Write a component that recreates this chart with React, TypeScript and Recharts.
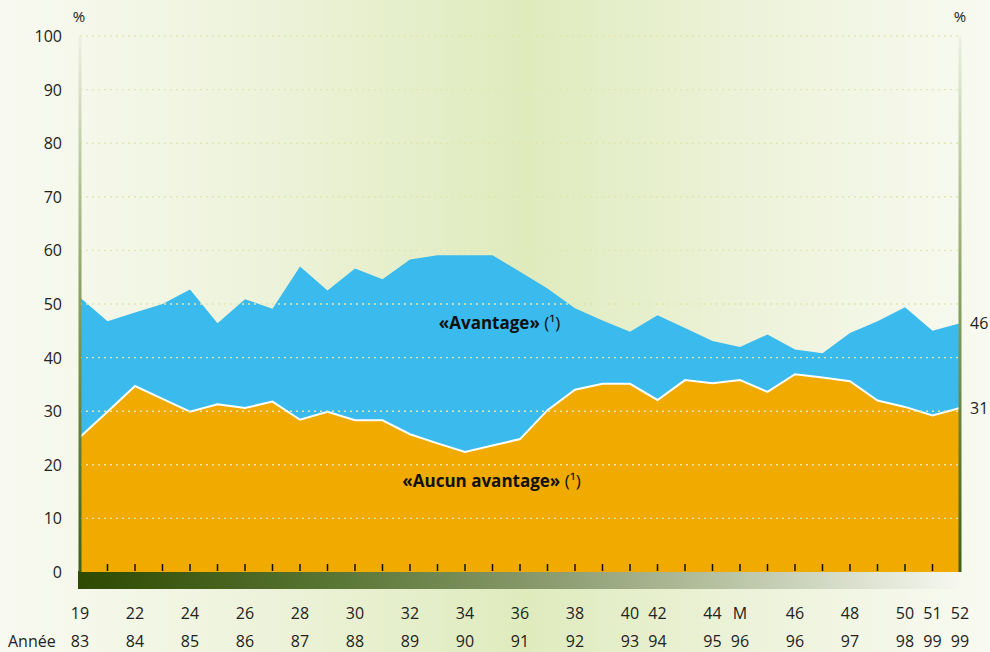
import { AreaChart, Area, XAxis, YAxis, ReferenceLine, ReferenceDot, LabelList } from 'recharts'

// survey wave (top row) and year (bottom row) shown under each point, blank where unlabeled
const waves = ['19', '', '22', '', '24', '', '26', '', '28', '', '30', '', '32', '', '34', '', '36', '', '38', '', '40', '42', '', '44', 'M', '', '46', '', '48', '', '50', '51', '52']
const years = ['83', '', '84', '', '85', '', '86', '', '87', '', '88', '', '89', '', '90', '', '91', '', '92', '', '93', '94', '', '95', '96', '', '96', '', '97', '', '98', '99', '99']

const avantage = [51.2, 46.8, 48.4, 50.0, 52.7, 46.4, 50.9, 49.1, 57.0, 52.5, 56.6, 54.6, 58.3, 59.1, 59.1, 59.1, 56.0, 52.9, 49.2, 46.9, 44.8, 47.9, 45.5, 43.1, 42.0, 44.3, 41.5, 40.8, 44.6, 46.8, 49.4, 45.0, 46.4]
const aucun = [25.2, 29.9, 34.7, 32.3, 29.9, 31.3, 30.6, 31.8, 28.4, 29.9, 28.3, 28.3, 25.7, 24.0, 22.4, 23.6, 24.8, 30.2, 34.0, 35.1, 35.1, 32.1, 35.8, 35.2, 35.8, 33.6, 36.9, 36.3, 35.6, 32.0, 30.8, 29.2, 30.6]

const yTicks = [0, 10, 20, 30, 40, 50, 60, 70, 80, 90, 100]

const data = waves.map((w, i) => ({ k: String(i), avantage: avantage[i], aucun: aucun[i] }))

const FONT = '"Open Sans", sans-serif'
const W = 990
const H = 652
const BOTTOM = 80
const TOP = 36
const base = H - BOTTOM

function XTick(props: any) {
  const { x, index } = props
  const last = waves.length - 1
  return (
    <g>
      {index > 0 && index < last && <line x1={x} x2={x} y1={base - 8} y2={base - 1} stroke="#111" strokeWidth={1.5} />}
      <text x={x} y={base + 41} textAnchor="middle" dominantBaseline="central" fontSize={16} fill="#222" fontFamily={FONT}>{waves[index]}</text>
      <text x={x} y={base + 69} textAnchor="middle" dominantBaseline="central" fontSize={16} fill="#222" fontFamily={FONT}>{years[index]}</text>
    </g>
  )
}

function YTick(props: any) {
  const { y, payload } = props
  return (
    <text x={62} y={y} textAnchor="end" dominantBaseline="central" fontSize={16} fill="#222" fontFamily={FONT}>{payload.value}</text>
  )
}

function EndLabel(props: any) {
  const { x, y, index, value } = props
  if (index !== waves.length - 1) return null
  return (
    <text x={x + 10} y={y} dominantBaseline="central" fontSize={16} fill="#222" fontFamily={FONT}>{Math.round(value)}</text>
  )
}

function SeriesName(props: any) {
  const { viewBox, value, dx = 0 } = props
  const cx = viewBox.x + viewBox.width / 2 + dx
  const cy = viewBox.y + viewBox.height / 2
  return (
    <text x={cx} y={cy} textAnchor="middle" dominantBaseline="central" fontSize={17} fill="#111" fontFamily={FONT}>
      <tspan fontWeight="bold">{value}</tspan> (¹)
    </text>
  )
}

export default function App() {
  return (
    <div style={{ position: 'absolute', left: 0, top: 0, width: W, height: H, background: 'linear-gradient(to right, #f8faf1 0%, #eef3dc 25%, #dfebbd 53%, #eef3dc 78%, #f8faf1 100%)', fontFamily: FONT }}>
      <div style={{ position: 'absolute', left: 78, top: base - 1, width: 882, height: 18, background: 'linear-gradient(to right, #2e4900 0%, #5b7736 30%, #88996b 52%, #bcc6a8 75%, #f6f8f0 100%)' }} />
      <AreaChart width={W} height={H} data={data} margin={{ top: TOP, right: 30, left: 0, bottom: 0 }} style={{ position: 'relative' }}>
        <defs>
          <linearGradient id="vline" gradientUnits="userSpaceOnUse" x1={0} y1={TOP} x2={0} y2={base}>
            <stop offset="0%" stopColor="#eef1e2" />
            <stop offset="45%" stopColor="#8fa566" />
            <stop offset="100%" stopColor="#3d5f16" />
          </linearGradient>
        </defs>
        <XAxis dataKey="k" interval={0} tickLine={false} axisLine={false} height={BOTTOM} tick={<XTick />} />
        <YAxis domain={[0, 100]} ticks={yTicks} width={80} tickLine={false} axisLine={false} tick={<YTick />} />
        <Area type="linear" dataKey="avantage" fill="#3abaed" fillOpacity={1} stroke="none" isAnimationActive={false}>
          <LabelList dataKey="avantage" content={<EndLabel />} />
        </Area>
        <Area type="linear" dataKey="aucun" fill="#f0aa00" fillOpacity={1} stroke="#ffffff" strokeWidth={2} isAnimationActive={false}>
          <LabelList dataKey="aucun" content={<EndLabel />} />
        </Area>
        {yTicks.filter((v) => v > 0).map((v) => (
          <ReferenceLine key={v} y={v} stroke="#e2e6b0" strokeWidth={1.4} strokeDasharray="2 4" />
        ))}
        <ReferenceLine x="0" stroke="url(#vline)" strokeWidth={3} />
        <ReferenceLine x={String(waves.length - 1)} stroke="url(#vline)" strokeWidth={3} />
        <ReferenceDot x="15" y={46.6} r={0} fill="none" stroke="none" label={<SeriesName value="«Avantage»" dx={7} />} />
        <ReferenceDot x="15" y={17.1} r={0} fill="none" stroke="none" label={<SeriesName value="«Aucun avantage»" dx={-1} />} />
        <text x={79} y={16} textAnchor="middle" dominantBaseline="central" fontSize={15} fill="#222" fontFamily={FONT}>%</text>
        <text x={960} y={16} textAnchor="middle" dominantBaseline="central" fontSize={15} fill="#222" fontFamily={FONT}>%</text>
        <text x={8} y={base + 69} dominantBaseline="central" fontSize={16} fill="#222" fontFamily={FONT}>Année</text>
      </AreaChart>
    </div>
  )
}
